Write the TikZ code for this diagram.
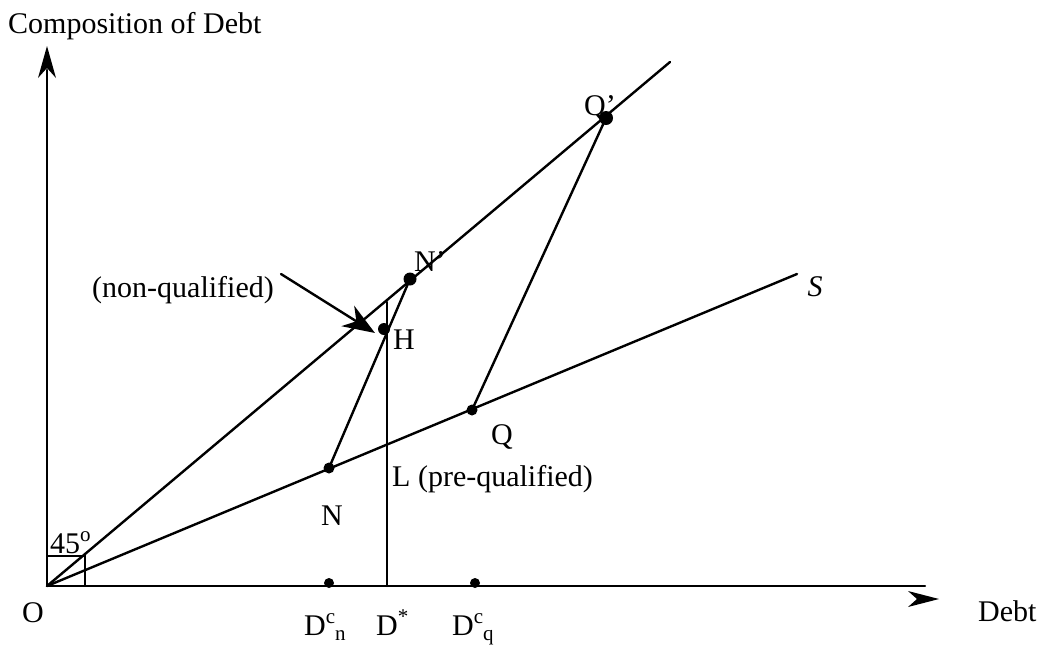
\documentclass[tikz,border=0pt]{standalone}
\usepackage{fontspec}
\setmainfont{Liberation Serif}
\usetikzlibrary{arrows.meta}
\newcommand{\bigf}{\fontsize{30}{36}\selectfont}
\newcommand{\smf}{\fontsize{21}{24}\selectfont}
\newcommand{\prm}{{\char"27}}
\begin{document}
\begin{tikzpicture}[x=1pt,y=-1pt,
  every node/.style={font=\bigf, inner sep=0pt},
  ln/.style={line width=2.4pt, line cap=round},
  dot/.style={circle, fill=black, inner sep=0pt, minimum size=12pt},
  bigdot/.style={circle, fill=black, inner sep=0pt, minimum size=14pt},
  lbl/.style={anchor=base west}]
\useasboundingbox (0,0) rectangle (1044,646);
% coordinates
\coordinate (O) at (47,586);
\coordinate (Ytop) at (47,70);
\coordinate (Xend) at (925,586);
\coordinate (Fend) at (670,62);
\coordinate (Send) at (797,274);
\coordinate (Dtop) at (387,302);
\coordinate (Dbot) at (387,586);
\coordinate (Astart) at (281,274);
\coordinate (Atip) at (375,333);
% axes
\draw[ln] (O) -- (Ytop);
\fill (47,46) -- (38,78) -- (47,68) -- (56,78) -- cycle;
\draw[ln] (O) -- (Xend);
\fill (939,599) -- (908,591) -- (917,599) -- (908,607) -- cycle;
% 45 box
\draw[line width=1.8pt] (47,556) -- (85,556) -- (85,586);
\node[lbl] (ang) at (50,553) {45\raisebox{12pt}{\smf o}};
% rays
\draw[ln] (O) -- (Fend);
\draw[ln] (O) -- (Send);
\node (Slab) at (815,287) {\itshape S};
% points
\node[dot, minimum size=11pt] (N) at (329,468) {};
\node[dot, minimum size=11pt] (Q) at (472,410) {};
\node[dot, minimum size=13pt] (Np) at (410,279) {};
\node[dot] (H) at (384,329) {};
\node[bigdot] (Qp) at (606,118) {};
\node[dot, minimum size=10pt] (Dn) at (329,583) {};
\node[dot, minimum size=10pt] (Dq) at (475,583) {};
\draw[ln] (N.center) -- (Np.center);
\draw[ln] (Q.center) -- (Qp.center);
\draw[ln] (Dtop) -- (Dbot);
% labels
\node (Nlab) at (332,516) {N};
\node (Qlab) at (502,437) {Q};
\node (Hlab) at (404,340) {H};
\node (Nplab) at (430,262) {N\prm};
\node (Qplab) at (600,108) {Q\prm};
\node[lbl] (Llab) at (392,486) {L (pre-qualified)};
\node[anchor=base east] (nq) at (274,297) {(non-qualified)};
\draw[ln, -{Stealth[length=32pt, width=24pt, inset=10pt]}] (Astart) -- (Atip);
\node[lbl] (Olab) at (22,622) {O};
\node[lbl] (Debt) at (978,621) {Debt};
\node[lbl] (ylab) at (8,33) {Composition of Debt};
\node[lbl] (Dcn) at (304,635) {D\raisebox{12pt}{\smf c}\raisebox{-5pt}{\smf n}};
\node[lbl] (Ds) at (376,635) {D\raisebox{12pt}{\smf *}};
\node[lbl] (Dcq) at (452,635) {D\raisebox{12pt}{\smf c}\raisebox{-5pt}{\smf q}};
\end{tikzpicture}
\end{document}
